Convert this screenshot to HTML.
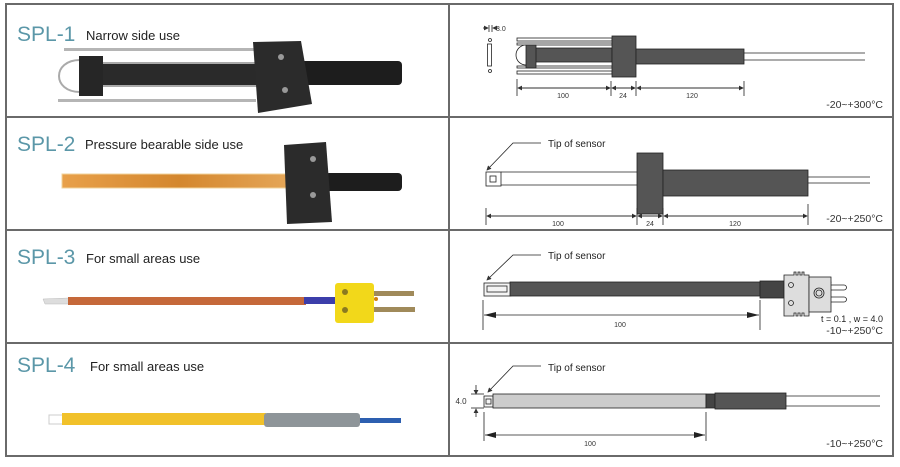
<!DOCTYPE html>
<html><head><meta charset="utf-8"><style>
html,body{margin:0;padding:0;background:#fff;width:900px;height:467px;overflow:hidden}
svg{display:block}
.t{font-family:"Liberation Sans",sans-serif;fill:#5b97a8;font-size:21px}
.s{font-family:"Liberation Sans",sans-serif;fill:#222;font-size:13px}
.d{font-family:"Liberation Sans",sans-serif;fill:#333;font-size:7px}
.r{font-family:"Liberation Sans",sans-serif;fill:#333;font-size:10.5px}
.l{font-family:"Liberation Sans",sans-serif;fill:#222;font-size:10px}
</style></head><body>
<svg width="900" height="467" viewBox="0 0 900 467" xmlns="http://www.w3.org/2000/svg">
<defs>
<marker id="a" markerWidth="6" markerHeight="6" refX="5" refY="3" orient="auto"><path d="M0,0 L6,3 L0,6z" fill="#333"/></marker>
<linearGradient id="og" x1="0" x2="1"><stop offset="0" stop-color="#e8a04a"/><stop offset=".5" stop-color="#d4872e"/><stop offset="1" stop-color="#e6a85a"/></linearGradient>
</defs>
<g stroke="#6a6a6a" stroke-width="2" fill="none">
<rect x="6" y="4" width="887" height="452"/>
<line x1="449" y1="4" x2="449" y2="456"/>
<line x1="6" y1="117" x2="893" y2="117"/>
<line x1="6" y1="230" x2="893" y2="230"/>
<line x1="6" y1="343" x2="893" y2="343"/>
</g>

<!-- SPL-1 -->
<text x="17" y="41" class="t">SPL-1</text><text x="86" y="40" class="s">Narrow side use</text>
<rect x="298" y="61" width="104" height="24" rx="4" fill="#1d1d1d"/>
<rect x="64" y="48" width="192" height="3" fill="#b5b5b5"/>
<rect x="58" y="99" width="198" height="3" fill="#b5b5b5"/>
<path d="M80,60 C52,60 52,92 80,92" stroke="#aaa" stroke-width="2" fill="none"/>
<rect x="100" y="64" width="160" height="21" fill="#2a2a2a"/>
<rect x="100" y="62" width="160" height="2" fill="#aaa"/>
<rect x="100" y="85" width="160" height="2" fill="#aaa"/>
<rect x="79" y="56" width="24" height="40" fill="#262626"/>
<polygon points="253,42 301,41 312,104 258,113" fill="#2b2b2b"/>
<circle cx="281" cy="57" r="3" fill="#999"/><circle cx="285" cy="90" r="3" fill="#999"/>

<!-- SPL-2 -->
<text x="17" y="151" class="t">SPL-2</text><text x="85" y="149" class="s">Pressure bearable side use</text>
<rect x="325" y="173" width="77" height="18" rx="4" fill="#1d1d1d"/>
<rect x="62" y="174" width="234" height="14" fill="url(#og)" stroke="#f2d39b" stroke-width="1"/>
<polygon points="284,145 326,142 332,222 287,224" fill="#2b2b2b"/>
<circle cx="313" cy="159" r="3" fill="#999"/><circle cx="313" cy="195" r="3" fill="#999"/>

<!-- SPL-3 -->
<text x="17" y="264" class="t">SPL-3</text><text x="86" y="263" class="s">For small areas use</text>
<polygon points="43,299 69,298 69,304 45,304" fill="#ddd" stroke="#bbb" stroke-width=".5"/>
<rect x="68" y="297" width="238" height="8" fill="#c5683a"/>
<rect x="304" y="297" width="34" height="7" fill="#3c3eaa"/>
<rect x="373" y="291" width="41" height="5" fill="#a08a5a"/>
<rect x="373" y="307" width="42" height="5" fill="#a08a5a"/>
<rect x="335" y="283" width="39" height="40" rx="3" fill="#f2d81a"/>
<circle cx="345" cy="292" r="3" fill="#8a7a20"/><circle cx="345" cy="310" r="3" fill="#8a7a20"/><circle cx="376" cy="299" r="2" fill="#d08010"/>

<!-- SPL-4 -->
<text x="17" y="372" class="t">SPL-4</text><text x="90" y="371" class="s">For small areas use</text>
<rect x="49" y="415" width="14" height="9" fill="#fff" stroke="#ccc"/>
<rect x="62" y="413" width="204" height="12" fill="#f1c12a"/>
<rect x="264" y="413" width="96" height="14" rx="3" fill="#8e9599"/>
<rect x="360" y="418" width="41" height="5" fill="#2d5fb0"/>

<!-- RIGHT SPL-1 -->
<g stroke="#222" stroke-width="0.8" fill="none">
<line x1="483" y1="28" x2="488" y2="28" marker-end="url(#a)"/>
<line x1="489" y1="25" x2="489" y2="32"/><line x1="492" y1="25" x2="492" y2="32"/>
<line x1="498" y1="28" x2="493" y2="28" marker-end="url(#a)"/>
<circle cx="490" cy="40" r="1.5"/><rect x="487.5" y="44" width="4" height="22" fill="#fff"/><circle cx="490" cy="71" r="1.5"/>
<rect x="517" y="38" width="95" height="3"/><rect x="517" y="71" width="95" height="3"/>
<rect x="517" y="43" width="95" height="2"/><rect x="517" y="66" width="95" height="2"/>
<path d="M526,45 A10,10 0 0 0 526,65" fill="#fff"/>
<rect x="535" y="48" width="77" height="14" fill="#555"/>
<rect x="526" y="45" width="10" height="23" fill="#555"/>
<rect x="612" y="36" width="24" height="41" fill="#555"/>
<rect x="636" y="49" width="108" height="15" fill="#555"/>
<line x1="744" y1="53" x2="865" y2="53"/><line x1="744" y1="60" x2="865" y2="60"/>
<line x1="517" y1="79" x2="517" y2="96"/><line x1="611" y1="81" x2="611" y2="96"/><line x1="636" y1="81" x2="636" y2="96"/><line x1="744" y1="81" x2="744" y2="96"/>
<line x1="518" y1="88" x2="610" y2="88" marker-end="url(#a)"/><line x1="610" y1="88" x2="518" y2="88" marker-end="url(#a)"/>
<line x1="612" y1="88" x2="635" y2="88" marker-end="url(#a)"/><line x1="635" y1="88" x2="612" y2="88" marker-end="url(#a)"/>
<line x1="637" y1="88" x2="743" y2="88" marker-end="url(#a)"/><line x1="743" y1="88" x2="637" y2="88" marker-end="url(#a)"/>
</g>
<text x="496" y="31" class="d">3.0</text>
<text x="563" y="98" class="d" text-anchor="middle">100</text><text x="623" y="98" class="d" text-anchor="middle">24</text><text x="692" y="98" class="d" text-anchor="middle">120</text>
<text x="883" y="108" class="r" text-anchor="end">-20~+300°C</text>

<!-- RIGHT SPL-2 -->
<g stroke="#222" stroke-width="0.8" fill="none">
<polyline points="541,143 513,143 487,170" marker-end="url(#a)"/>
<rect x="486" y="172" width="15" height="14" fill="#fff"/><rect x="490" y="176" width="6" height="6"/>
<line x1="501" y1="172" x2="637" y2="172"/><line x1="501" y1="185" x2="637" y2="185"/>
<rect x="637" y="153" width="26" height="61" fill="#555"/>
<rect x="663" y="170" width="145" height="26" fill="#555"/>
<line x1="808" y1="177" x2="870" y2="177"/><line x1="808" y1="183" x2="870" y2="183"/>
<line x1="486" y1="208" x2="486" y2="225"/><line x1="637" y1="208" x2="637" y2="225"/><line x1="663" y1="208" x2="663" y2="225"/><line x1="808" y1="204" x2="808" y2="225"/>
<line x1="487" y1="216" x2="636" y2="216" marker-end="url(#a)"/><line x1="636" y1="216" x2="487" y2="216" marker-end="url(#a)"/>
<line x1="638" y1="216" x2="662" y2="216" marker-end="url(#a)"/><line x1="662" y1="216" x2="638" y2="216" marker-end="url(#a)"/>
<line x1="664" y1="216" x2="807" y2="216" marker-end="url(#a)"/><line x1="807" y1="216" x2="664" y2="216" marker-end="url(#a)"/>
</g>
<text x="548" y="147" class="l">Tip of sensor</text>
<text x="558" y="226" class="d" text-anchor="middle">100</text><text x="650" y="226" class="d" text-anchor="middle">24</text><text x="735" y="226" class="d" text-anchor="middle">120</text>
<text x="883" y="222" class="r" text-anchor="end">-20~+250°C</text>

<!-- RIGHT SPL-3 -->
<g stroke="#222" stroke-width="0.8" fill="none">
<polyline points="541,255 513,255 487,280" marker-end="url(#a)"/>
<rect x="484" y="283" width="27" height="13" fill="#f4f4f4"/><rect x="487" y="286" width="20" height="6"/>
<rect x="510" y="282" width="250" height="14" fill="#555"/>
<rect x="760" y="281" width="24" height="17" fill="#444"/>
<path d="M784,275 h10 v-3 h2 v3 h2 v-3 h2 v3 h2 v-3 h2 v3 h5 v7 h22 v1 h-22 v25 v8 h-5 v-3 h-2 v3 h-2 v-3 h-2 v3 h-2 v-3 h-2 v3 h-10 z" fill="#ddd"/>
<rect x="809" y="277" width="22" height="35" fill="#ddd"/>
<circle cx="791" cy="285" r="2.5"/><circle cx="791" cy="303" r="2.5"/><circle cx="819" cy="293" r="5"/><circle cx="819" cy="293" r="3"/>
<path d="M831,285 h13 a2.5,2.5 0 0 1 0,5 h-13"/><path d="M831,297 h13 a2.5,2.5 0 0 1 0,5 h-13"/>
<line x1="483" y1="300" x2="483" y2="330"/><line x1="760" y1="300" x2="760" y2="330"/>
</g>
<line x1="484" y1="315" x2="759" y2="315" stroke="#222" stroke-width="0.8"/>
<path d="M484,315 l12,-3 v6z M759,315 l-12,-3 v6z" fill="#222"/>
<text x="548" y="259" class="l">Tip of sensor</text>
<text x="620" y="327" class="d" text-anchor="middle">100</text>
<text x="883" y="322" class="l" text-anchor="end" style="font-size:9px">t = 0.1 , w = 4.0</text>
<text x="883" y="334" class="r" text-anchor="end">-10~+250°C</text>

<!-- RIGHT SPL-4 -->
<g stroke="#222" stroke-width="0.8" fill="none">
<polyline points="541,366 513,366 488,392" marker-end="url(#a)"/>
<rect x="484" y="396" width="9" height="11" fill="#f4f4f4"/><rect x="486" y="399" width="5" height="5"/>
<rect x="493" y="394" width="213" height="14" fill="#ccc"/>
<rect x="706" y="394" width="9" height="14" fill="#444"/>
<rect x="715" y="393" width="71" height="16" fill="#555"/>
<line x1="786" y1="396" x2="880" y2="396"/><line x1="786" y1="406" x2="880" y2="406"/>
<line x1="476" y1="385" x2="476" y2="394" marker-end="url(#a)"/><line x1="476" y1="417" x2="476" y2="409" marker-end="url(#a)"/>
<line x1="471" y1="394" x2="484" y2="394"/><line x1="471" y1="408" x2="484" y2="408"/>
<line x1="484" y1="412" x2="484" y2="441"/><line x1="706" y1="412" x2="706" y2="441"/>
</g>
<line x1="485" y1="435" x2="705" y2="435" stroke="#222" stroke-width="0.8"/>
<path d="M485,435 l11,-3 v6z M705,435 l-11,-3 v6z" fill="#222"/>
<text x="548" y="371" class="l">Tip of sensor</text>
<text x="461" y="404" class="d" text-anchor="middle" style="font-size:8px">4.0</text>
<text x="590" y="446" class="d" text-anchor="middle">100</text>
<text x="883" y="447" class="r" text-anchor="end">-10~+250°C</text>
</svg>
</body></html>
